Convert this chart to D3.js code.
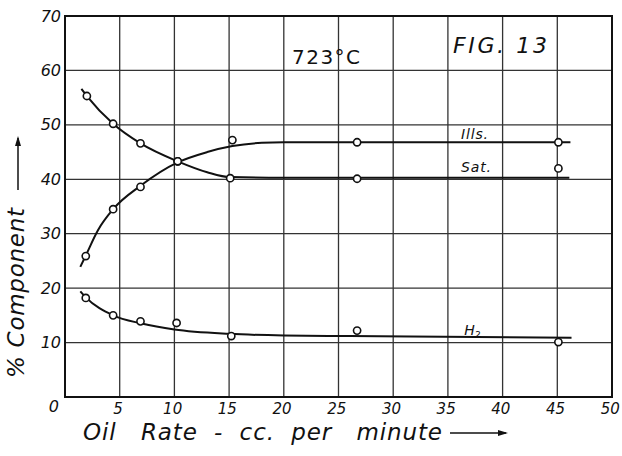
<!DOCTYPE html>
<html>
<head>
<meta charset="utf-8">
<script src="https://cdn.jsdelivr.net/npm/d3@7"></script>
<style>
  body { margin: 0; background: #fff; }
  text { font-family: "DejaVu Sans", sans-serif; font-style: italic; fill: #111; }
</style>
</head>
<body>
<div id="wrapper"></div>
<script>
// observed points [oil rate, %]
const satPoints = [[2.0, 55.3], [4.4, 50.2], [6.9, 46.6], [10.3, 43.3], [15.1, 40.2], [26.7, 40.1], [45.1, 42.0]]
const illsPoints = [[1.9, 25.9], [4.4, 34.5], [6.9, 38.6], [10.3, 43.3], [15.3, 47.2], [26.7, 46.8], [45.1, 46.8]]
const h2Points = [[1.9, 18.2], [4.4, 15.0], [6.9, 13.9], [10.2, 13.6], [15.2, 11.2], [26.7, 12.2], [45.1, 10.1]]

// hand-drawn fitted curves
const satCurve = [[1.5, 56.6], [2.0, 55.3], [4.4, 50.2], [6.9, 46.6], [10.3, 43.3], [13, 41.3], [15.1, 40.4], [20, 40.3], [46.1, 40.3]]
const illsCurve = [[1.4, 23.9], [1.9, 26.0], [3, 30.6], [4.4, 34.5], [6.9, 38.8], [10.3, 43.1], [13, 45.0], [15.3, 46.1], [18, 46.7], [20, 46.8], [46.2, 46.8]]
const h2Curve = [[1.4, 19.4], [1.9, 18.3], [4.4, 15.0], [7, 13.5], [10, 12.4], [15, 11.6], [20, 11.3], [26, 11.2], [46.3, 10.9]]

const xTicks = [0, 5, 10, 15, 20, 25, 30, 35, 40, 45, 50]
const yTicks = [0, 10, 20, 30, 40, 50, 60, 70]

const dimensions = {
  width: 622,
  height: 456,
  margin: { top: 16, right: 10, bottom: 59, left: 65 },
}
dimensions.boundedWidth = dimensions.width - dimensions.margin.left - dimensions.margin.right
dimensions.boundedHeight = dimensions.height - dimensions.margin.top - dimensions.margin.bottom

const wrapper = d3.select("#wrapper").append("svg")
    .attr("width", dimensions.width)
    .attr("height", dimensions.height)

const bounds = wrapper.append("g")
    .attr("transform", `translate(${dimensions.margin.left},${dimensions.margin.top})`)

const xScale = d3.scaleLinear().domain([0, 50]).range([0, dimensions.boundedWidth])
const yScale = d3.scaleLinear().domain([0, 70]).range([dimensions.boundedHeight, 0])

// grid
bounds.append("g").selectAll("line").data(xTicks).join("line")
    .attr("x1", d => xScale(d)).attr("x2", d => xScale(d))
    .attr("y1", 0).attr("y2", dimensions.boundedHeight)
    .attr("stroke", "#333").attr("stroke-width", 1.3)
bounds.append("g").selectAll("line").data(yTicks).join("line")
    .attr("y1", d => yScale(d)).attr("y2", d => yScale(d))
    .attr("x1", 0).attr("x2", dimensions.boundedWidth)
    .attr("stroke", "#333").attr("stroke-width", 1.3)
bounds.append("rect")
    .attr("width", dimensions.boundedWidth).attr("height", dimensions.boundedHeight)
    .attr("fill", "none").attr("stroke", "#111").attr("stroke-width", 2)

// axes (the shared corner "0" is written once, by the y axis)
const xAxis = bounds.append("g")
    .attr("transform", `translate(0,${dimensions.boundedHeight})`)
    .call(d3.axisBottom(xScale).tickValues(xTicks.filter(d => d > 0)).tickSize(0).tickPadding(6))
xAxis.select(".domain").remove()
xAxis.selectAll("text").style("font-size", "15px").attr("fill", "#111")
    .attr("dx", "-0.15em")

const yAxis = bounds.append("g")
    .call(d3.axisLeft(yScale).tickValues(yTicks).tickSize(0).tickPadding(4))
yAxis.select(".domain").remove()
yAxis.selectAll("text").style("font-size", "16px").attr("fill", "#111")
yAxis.selectAll(".tick").filter(d => d === 0).select("text").attr("dy", "0.9em").attr("x", -6)

// curves
const line = d3.line()
    .x(d => xScale(d[0]))
    .y(d => yScale(d[1]))
    .curve(d3.curveMonotoneX)

;[satCurve, illsCurve, h2Curve].forEach(c => {
  bounds.append("path")
      .attr("d", line(c))
      .attr("fill", "none")
      .attr("stroke", "#111")
      .attr("stroke-width", 2)
})

// points
;[satPoints, illsPoints, h2Points].forEach(pts => {
  bounds.append("g").selectAll("circle").data(pts).join("circle")
      .attr("cx", d => xScale(d[0]))
      .attr("cy", d => yScale(d[1]))
      .attr("r", 3.6)
      .attr("fill", "#fff")
      .attr("stroke", "#111")
      .attr("stroke-width", 1.6)
})

// series labels
const seriesLabel = (txt, x, y, size) => bounds.append("text")
    .attr("x", xScale(x)).attr("y", yScale(y))
    .style("font-size", size + "px")
    .text(txt)
seriesLabel("Ills.", 36.2, 47.4, 14).attr("textLength", 27)
seriesLabel("Sat.", 36.2, 41.4, 14).attr("textLength", 30)
const h2 = seriesLabel("H", 36.5, 11.3, 14)
h2.append("tspan").attr("dy", 3).style("font-size", "9px").text("2")

// annotations
wrapper.append("text").attr("x", 292).attr("y", 64).style("font-size", "20px").style("font-style", "normal")
    .attr("textLength", 68).text("723°C")
wrapper.append("text").attr("x", 453).attr("y", 53).style("font-size", "22px")
    .attr("textLength", 94).text("FIG. 13")

// axis labels
wrapper.append("text")
    .attr("x", 83).attr("y", 440)
    .style("font-size", "23px")
    .style("white-space", "pre")
    .attr("textLength", 359)
    .text("Oil   Rate  -  cc.  per   minute")
wrapper.append("line")
    .attr("x1", 450).attr("x2", 506).attr("y1", 433).attr("y2", 433)
    .attr("stroke", "#111").attr("stroke-width", 1.5)
wrapper.append("path")
    .attr("d", "M498,430 L508,433 L498,436 Z").attr("fill", "#111")

wrapper.append("text")
    .attr("transform", "translate(24,378) rotate(-90)")
    .style("font-size", "23px")
    .attr("textLength", 170)
    .text("% Component")
wrapper.append("line")
    .attr("x1", 18).attr("x2", 18).attr("y1", 190).attr("y2", 138)
    .attr("stroke", "#111").attr("stroke-width", 1.5)
wrapper.append("path")
    .attr("d", "M15,146 L18,136 L21,146 Z").attr("fill", "#111")
</script>
</body>
</html>
